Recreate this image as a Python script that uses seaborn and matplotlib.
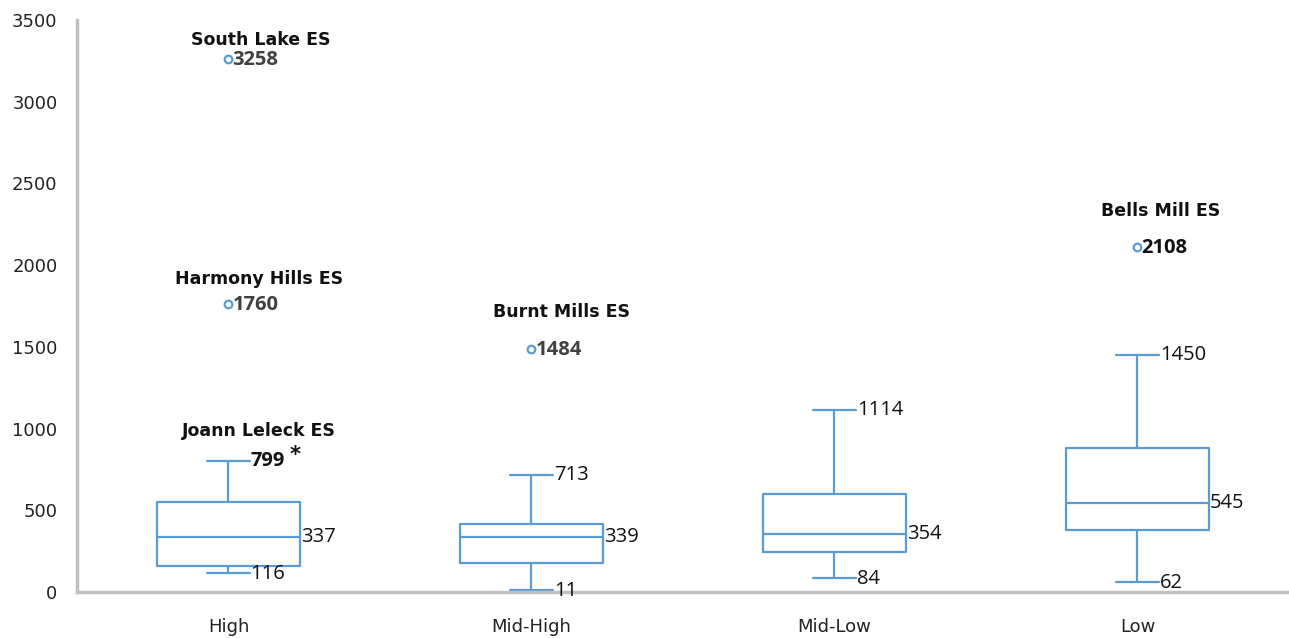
import matplotlib
matplotlib.use("Agg")
import matplotlib.pyplot as plt
import seaborn as sns
import pandas as pd

# Five-number summaries per poverty group
groups = ["High", "Mid-High", "Mid-Low", "Low"]
whisker_low = [116, 11, 84, 62]
q1 = [159, 177, 245, 380]
median = [337, 339, 354, 545]
q3 = [551, 416, 600, 881]
whisker_high = [799, 713, 1114, 1450]

# Outlier schools
outlier_group = [0, 0, 1, 3]
outlier_value = [3258, 1760, 1484, 2108]
outlier_name = ["South Lake ES", "Harmony Hills ES", "Burnt Mills ES", "Bells Mill ES"]

# Labelled top whisker school
whisker_school = "Joann Leleck ES"

sns.set_theme(style="white")
plt.rcParams["font.family"] = ["DejaVu Sans"]

BLUE = "#5B9BD5"
NUM_FONT = "Open Sans"
NUM_SIZE = 14.5

fig = plt.figure(figsize=(12.89, 6.38), dpi=100)
ax = fig.add_axes([0.0597, 0.072, 0.9403, 0.897])

stats = []
for i, g in enumerate(groups):
    stats.append(dict(label=g, whislo=whisker_low[i], q1=q1[i], med=median[i],
                      q3=q3[i], whishi=whisker_high[i], fliers=[]))

line_kw = dict(color=BLUE, linewidth=1.6)
ax.bxp(stats, positions=range(len(groups)), widths=0.47, showfliers=False,
       boxprops=line_kw, medianprops=line_kw, whiskerprops=line_kw,
       capprops=line_kw, capwidths=0.14, manage_ticks=False)

# Outlier markers
out_df = pd.DataFrame({"x": outlier_group, "y": outlier_value})
sns.scatterplot(data=out_df, x="x", y="y", ax=ax, marker="o", s=30,
                facecolor="white", edgecolor=BLUE, linewidth=1.6, zorder=5,
                legend=False)

ax.set_xlim(-0.5, 3.5)
ax.set_ylim(0, 3500)
ax.set_xticks(range(len(groups)))
ax.set_xticklabels(groups, fontsize=13, color="#222222")
ax.set_yticks(range(0, 3501, 500))
ax.tick_params(axis="both", length=0, labelsize=13, colors="#222222")
ax.tick_params(axis="x", pad=19)
ax.tick_params(axis="y", pad=14)
ax.set_xlabel("")
ax.set_ylabel("")
for s in ["top", "right"]:
    ax.spines[s].set_visible(False)
for s in ["left", "bottom"]:
    ax.spines[s].set_color("#c0c0c0")
    ax.spines[s].set_linewidth(2.5)

# Value labels beside caps and medians
for i in range(len(groups)):
    cap_x = i + 0.07
    box_x = i + 0.235
    ax.annotate(f"{median[i]}", (box_x, median[i]), xytext=(1, 0),
                textcoords="offset pixels", ha="left", va="center",
                fontsize=NUM_SIZE, family=NUM_FONT, color="#111111")
    ax.annotate(f"{whisker_low[i]}", (cap_x, whisker_low[i]), xytext=(1, -1),
                textcoords="offset pixels", ha="left", va="center",
                fontsize=NUM_SIZE, family=NUM_FONT, color="#111111")
    if i == 0:
        ax.annotate(f"{whisker_high[i]}", (cap_x, whisker_high[i]), xytext=(1, 0),
                    textcoords="offset pixels", ha="left", va="center",
                    fontsize=NUM_SIZE, family=NUM_FONT, fontweight="bold",
                    color="#111111")
        ax.annotate("*", (cap_x, whisker_high[i]), xytext=(40, 6),
                    textcoords="offset pixels", ha="left", va="center",
                    fontsize=15, fontweight="bold", color="#111111")
        ax.annotate(whisker_school, (i, whisker_high[i]), xytext=(30, 30),
                    textcoords="offset pixels", ha="center", va="center",
                    fontsize=12.5, fontweight="bold", color="#111111")
    else:
        ax.annotate(f"{whisker_high[i]}", (cap_x, whisker_high[i]), xytext=(1, 0),
                    textcoords="offset pixels", ha="left", va="center",
                    fontsize=NUM_SIZE, family=NUM_FONT, color="#111111")

# Outlier value and name labels
name_dy = [19, 25, 37, 36]
name_dx = [32, 31, 30, 23]
num_color = ["#404040", "#404040", "#404040", "#111111"]
for k in range(len(outlier_value)):
    gx, gy = outlier_group[k], outlier_value[k]
    ax.annotate(f"{gy}", (gx, gy), xytext=(4, -1), textcoords="offset pixels",
                ha="left", va="center", fontsize=NUM_SIZE, family=NUM_FONT,
                fontweight="bold", color=num_color[k])
    ax.annotate(outlier_name[k], (gx, gy), xytext=(name_dx[k], name_dy[k]),
                textcoords="offset pixels", ha="center", va="center",
                fontsize=12.5, fontweight="bold", color="#111111")

fig.savefig("out.png", dpi=100)
